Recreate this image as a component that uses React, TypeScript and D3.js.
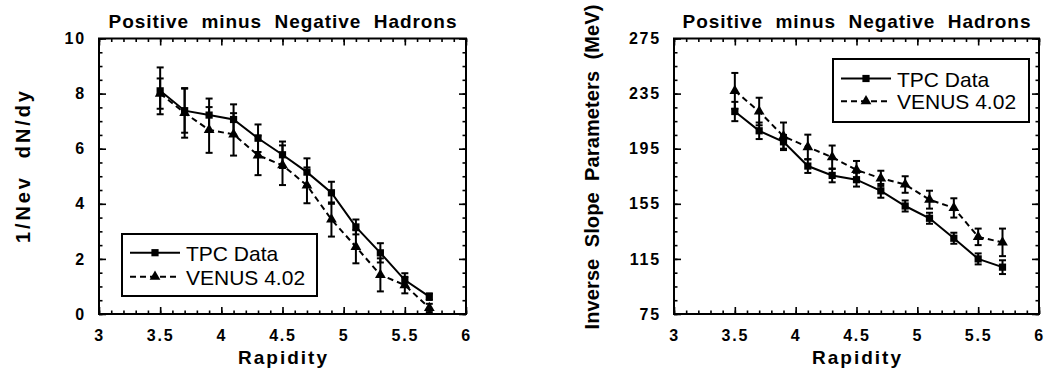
import React, { useEffect, useRef } from 'react';
import * as d3 from 'd3';

// rapidity bins shared by both panels
const rapidity = [3.5, 3.7, 3.9, 4.1, 4.3, 4.5, 4.7, 4.9, 5.1, 5.3, 5.5, 5.7];

// left panel: 1/Nev dN/dy
const dndyTpc = [8.1, 7.38, 7.22, 7.06, 6.38, 5.78, 5.15, 4.4, 3.16, 2.22, 1.23, 0.63];
const dndyTpcErr = [0.85, 0.8, 0.6, 0.55, 0.5, 0.48, 0.5, 0.4, 0.27, 0.35, 0.25, 0.12];
const dndyVenus = [8.0, 7.3, 6.68, 6.52, 5.76, 5.4, 4.67, 3.43, 2.44, 1.42, 1.05, 0.22];
const dndyVenusErr = [0.55, 0.9, 0.83, 0.77, 0.72, 0.72, 0.65, 0.62, 0.6, 0.6, 0.3, 0.15];

// right panel: inverse slope parameters (MeV)
const slopeTpc = [222, 208, 200, 182.4, 175.6, 172.5, 164.4, 153.4, 144.5, 130, 115, 109];
const slopeTpcErr = [7, 6, 5, 5, 5, 5, 5, 4, 4, 4, 4, 5];
const slopeVenus = [237, 222, 204, 196.2, 188.8, 179.6, 173.5, 169, 158, 152, 131, 127];
const slopeVenusErr = [13, 10, 10, 9, 8.5, 6.5, 5.5, 6, 6.5, 7, 6, 10];

const xTicks = [3, 3.5, 4, 4.5, 5, 5.5, 6];
const dndyTicks = [0, 2, 4, 6, 8, 10];
const slopeTicks = [75, 115, 155, 195, 235, 275];
const seriesNames = ['TPC Data', 'VENUS 4.02'];
const titleText = 'Positive  minus  Negative  Hadrons';
const xLabel = 'Rapidity';

const W = 1048;
const H = 368;
const TOP = 38.5;
const BOTTOM = 314;
const FONT = '"Liberation Sans", Arial, Helvetica, sans-serif';

const panels = [
  {
    x0: 99, x1: 466,
    yDomain: [0, 10], yTicks: dndyTicks, yMinor: 0.5,
    tpc: dndyTpc, tpcErr: dndyTpcErr, venus: dndyVenus, venusErr: dndyVenusErr,
    yLabel: '1/Nev  dN/dy', yLabelX: 30, yLabelLen: 152,
    legend: { x: 122, y: 234, w: 195, h: 62, row0: 252.7, rowGap: 24 },
  },
  {
    x0: 674, x1: 1039,
    yDomain: [75, 275], yTicks: slopeTicks, yMinor: 10,
    tpc: slopeTpc, tpcErr: slopeTpcErr, venus: slopeVenus, venusErr: slopeVenusErr,
    yLabel: 'Inverse  Slope  Parameters  (MeV)', yLabelX: 599, yLabelLen: 325,
    legend: { x: 833, y: 59, w: 196, h: 63, row0: 78.5, rowGap: 22.7 },
  },
];

function drawPanel(root, p) {
  const x = d3.scaleLinear().domain([3, 6]).range([p.x0, p.x1]);
  const y = d3.scaleLinear().domain(p.yDomain).range([BOTTOM, TOP]);
  const g = root.append('g');

  const xMinor = d3.range(30, 61).map((v) => v / 10);
  const yMinor = d3.range(p.yDomain[0], p.yDomain[1] + 1e-9, p.yMinor);

  const addAxis = (axis, transform, values, size, labels, pad) => {
    const a = g
      .append('g')
      .attr('transform', transform)
      .call(
        axis
          .tickValues(values)
          .tickSize(-size)
          .tickSizeOuter(0)
          .tickPadding(pad || 0)
          .tickFormat(labels ? d3.format('~g') : () => '')
      );
    a.select('.domain').remove();
    a.selectAll('line').attr('stroke', '#000').attr('stroke-width', 1.6);
    a.attr('font-family', FONT).attr('font-size', 16).attr('font-weight', 'bold');
    a.selectAll('text').attr('fill', '#000').style('letter-spacing', '1.8px');
  };

  // minor ticks, all four sides
  addAxis(d3.axisBottom(x), `translate(0,${BOTTOM})`, xMinor, 3.5);
  addAxis(d3.axisTop(x), `translate(0,${TOP})`, xMinor, 3.5);
  addAxis(d3.axisLeft(y), `translate(${p.x0},0)`, yMinor, 3.5);
  addAxis(d3.axisRight(y), `translate(${p.x1},0)`, yMinor, 3.5);
  // major ticks
  addAxis(d3.axisBottom(x), `translate(0,${BOTTOM})`, xTicks, 7, true, 16);
  addAxis(d3.axisTop(x), `translate(0,${TOP})`, xTicks, 7);
  addAxis(d3.axisLeft(y), `translate(${p.x0},0)`, p.yTicks, 7, true, 13);
  addAxis(d3.axisRight(y), `translate(${p.x1},0)`, p.yTicks, 7);

  g.append('rect')
    .attr('x', p.x0)
    .attr('y', TOP)
    .attr('width', p.x1 - p.x0)
    .attr('height', BOTTOM - TOP)
    .attr('fill', 'none')
    .attr('stroke', '#000')
    .attr('stroke-width', 2);

  const cx = (p.x0 + p.x1) / 2;
  g.append('text')
    .attr('x', cx)
    .attr('y', 28)
    .attr('text-anchor', 'middle')
    .attr('font-family', FONT)
    .attr('font-size', 19)
    .attr('font-weight', 'bold')
    .attr('textLength', 348)
    .attr('lengthAdjust', 'spacing')
    .style('white-space', 'pre')
    .text(titleText);

  g.append('text')
    .attr('x', cx)
    .attr('y', 364)
    .attr('text-anchor', 'middle')
    .attr('font-family', FONT)
    .attr('font-size', 19)
    .attr('font-weight', 'bold')
    .attr('textLength', 89)
    .attr('lengthAdjust', 'spacing')
    .text(xLabel);

  g.append('text')
    .attr('transform', `translate(${p.yLabelX},167) rotate(-90)`)
    .attr('text-anchor', 'middle')
    .attr('font-family', FONT)
    .attr('font-size', 20)
    .attr('font-weight', 'bold')
    .attr('textLength', p.yLabelLen)
    .attr('lengthAdjust', 'spacing')
    .style('white-space', 'pre')
    .text(p.yLabel);

  const square = d3.symbol().type(d3.symbolSquare).size(52)();
  const triangle = d3.symbol().type(d3.symbolTriangle).size(50)();

  const series = [
    { vals: p.venus, errs: p.venusErr, dash: '6,4', marker: triangle },
    { vals: p.tpc, errs: p.tpcErr, dash: null, marker: square },
  ];

  series.forEach((s) => {
    const pts = rapidity.map((r, i) => [x(r), y(s.vals[i])]);
    g.append('path')
      .attr('d', d3.line()(pts))
      .attr('fill', 'none')
      .attr('stroke', '#000')
      .attr('stroke-width', 2)
      .attr('stroke-dasharray', s.dash);

    const bars = g.append('g').attr('stroke', '#000').attr('stroke-width', 2);
    rapidity.forEach((r, i) => {
      const px = x(r);
      const yHi = y(s.vals[i] + s.errs[i]);
      const yLo = y(s.vals[i] - s.errs[i]);
      bars.append('line').attr('x1', px).attr('x2', px).attr('y1', yHi).attr('y2', yLo);
      bars.append('line').attr('x1', px - 3.5).attr('x2', px + 3.5).attr('y1', yHi).attr('y2', yHi);
      bars.append('line').attr('x1', px - 3.5).attr('x2', px + 3.5).attr('y1', yLo).attr('y2', yLo);
    });

    g.selectAll(null)
      .data(pts)
      .join('path')
      .attr('d', s.marker)
      .attr('transform', (d) => `translate(${d[0]},${d[1]})`)
      .attr('fill', '#000');
  });

  // legend
  const L = p.legend;
  g.append('rect')
    .attr('x', L.x)
    .attr('y', L.y)
    .attr('width', L.w)
    .attr('height', L.h)
    .attr('fill', '#fff')
    .attr('stroke', '#000')
    .attr('stroke-width', 2);

  const legendSeries = [series[1], series[0]];
  legendSeries.forEach((s, i) => {
    const ry = L.row0 + i * L.rowGap;
    g.append('line')
      .attr('x1', L.x + 8)
      .attr('x2', L.x + 58)
      .attr('y1', ry)
      .attr('y2', ry)
      .attr('stroke', '#000')
      .attr('stroke-width', 2)
      .attr('stroke-dasharray', s.dash);
    g.append('path')
      .attr('d', s.marker)
      .attr('transform', `translate(${L.x + 33},${ry})`)
      .attr('fill', '#000');
    g.append('text')
      .attr('x', L.x + 64)
      .attr('y', ry + 8)
      .attr('font-family', FONT)
      .attr('font-size', 21)
      .text(seriesNames[i]);
  });
}

const App = () => {
  const ref = useRef(null);

  useEffect(() => {
    const svg = d3.select(ref.current);
    svg.selectAll('*').remove();
    svg.append('rect').attr('width', W).attr('height', H).attr('fill', '#fff');
    panels.forEach((p) => drawPanel(svg, p));
  }, []);

  return (
    <svg
      ref={ref}
      width={W}
      height={H}
      style={{ position: 'absolute', left: 0, top: 0 }}
    />
  );
};

export default App;
